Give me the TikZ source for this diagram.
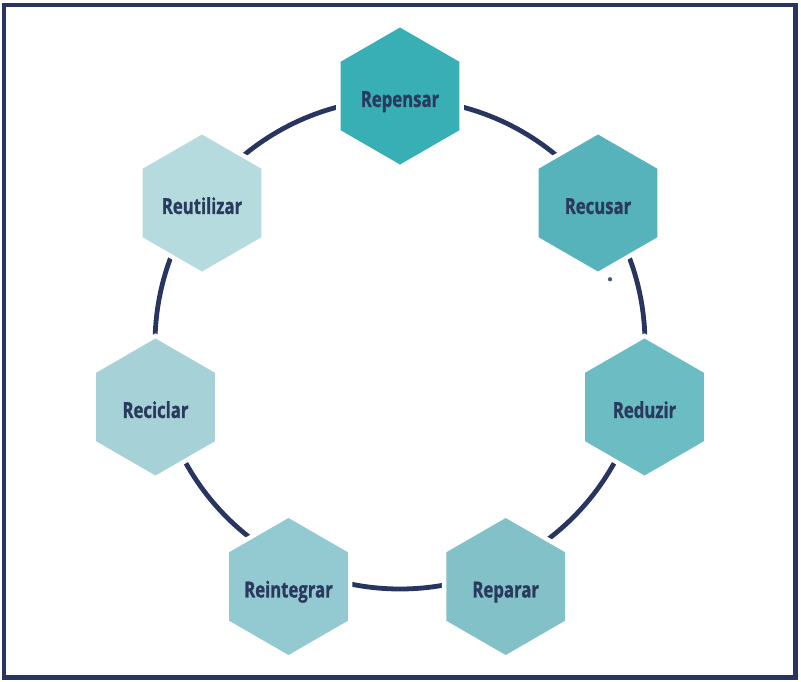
\documentclass[tikz,border=0pt]{standalone}
\usepackage{fontspec}
\usetikzlibrary{shapes.geometric}
\newfontfamily\hexfont[FakeStretch=0.76,BoldFeatures={FakeBold=1}]{Open Sans}
\definecolor{navy}{HTML}{283560}
\definecolor{textnavy}{HTML}{2A3A5E}
\definecolor{cRepensar}{HTML}{37AFB5}
\definecolor{cRecusar}{HTML}{56B3BC}
\definecolor{cReduzir}{HTML}{6BBCC3}
\definecolor{cReparar}{HTML}{82C1C8}
\definecolor{cReintegrar}{HTML}{93C9D0}
\definecolor{cReciclar}{HTML}{A6D2D7}
\definecolor{cReutilizar}{HTML}{B6DBDF}
\tikzstyle{hexa}=[regular polygon,regular polygon sides=6,shape border rotate=30,minimum size=102.75pt,inner sep=0pt,draw=none,preaction={draw=white,line width=6.8pt},text=textnavy,font=\hexfont\bfseries\fontsize{16.5}{18}\selectfont]
\tikzstyle{ring}=[draw=navy,line width=3.6pt]
\tikzstyle{frame}=[draw=navy,line width=3.4pt]

\begin{document}
\begin{tikzpicture}[x=0.75pt,y=-0.75pt]
    % page and frame
    \useasboundingbox (0,0) rectangle (801,682);
    \draw[frame] (3.8,5) rectangle (795.3,677.5);

    % the ring behind the hexagons
    \coordinate (cen) at (400,344);
    \draw[ring] (cen) circle[radius=183.75pt];

    % the seven hexagons
    \foreach \pos/\name/\label in {{(400,96)/rep/Repensar}, {(598,203)/rec/Recusar}, {(644.5,407)/red/Reduzir}, {(505.7,586.5)/repa/Reparar}, {(288.5,586.5)/rei/Reintegrar}, {(155.5,407)/reci/Reciclar}, {(202,203)/reu/Reutilizar}}
        \node[hexa, fill=c\label] (\name) at \pos {\raisebox{-8.2pt}[0pt][0pt]{\makebox[0pt]{\label}}};

    % small stray dot
    \fill[textnavy!85] (610,279.3) circle[radius=1.6pt];
\end{tikzpicture}
\end{document}
